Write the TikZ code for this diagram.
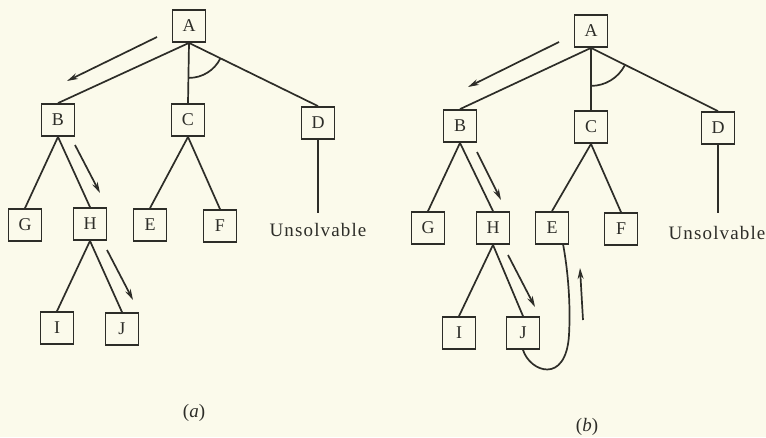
\documentclass[tikz,border=0pt]{standalone}
\usepackage{fontspec}
\setmainfont{Liberation Serif}
\usetikzlibrary{arrows.meta}
\definecolor{paper}{RGB}{251,250,235}
\definecolor{ink}{RGB}{45,45,40}
\begin{document}
\begin{tikzpicture}[x=1pt,y=1pt,
  box/.style={draw=ink, line width=1.8pt, minimum width=33pt, minimum height=32pt, inner sep=0pt, text=ink, font=\fontsize{18}{18}\selectfont},
  lbl/.style={text=ink, inner sep=0pt, font=\fontsize{19}{19}\selectfont},
  edge/.style={draw=ink, line width=1.7pt},
  arr/.style={draw=ink, line width=1.7pt, -{Stealth[length=11pt,width=6pt]}}]
\fill[paper] (0,0) rectangle (766,-437);
\useasboundingbox (0,0) rectangle (766,-437);
% ---------- (a) ----------
\node[box] (aA) at (189,-26) {A};
\node[box] (aB) at (58,-120) {B};
\node[box] (aC) at (188,-120) {C};
\node[box] (aD) at (318,-123) {D};
\node[box] (aG) at (25,-225) {G};
\node[box] (aH) at (90,-224) {H};
\node[box] (aE) at (150,-225) {E};
\node[box] (aF) at (220,-226) {F};
\node[box] (aI) at (57,-328) {I};
\node[box] (aJ) at (122,-329) {J};
\node[lbl] (aU) at (318,-230) {\addfontfeature{LetterSpace=6}Unsolvable};
\node[lbl] (acap) at (194,-413) {(\textit{a})};
\coordinate (aDend) at (318,-213);
\draw[edge] (aA.south) -- (aB.north);
\draw[edge] (aA.south) -- (aC.north);
\draw[edge] (aA.south) -- (aD.north);
\draw[edge] (aB.south) -- (aG.north);
\draw[edge] (aB.south) -- (aH.north);
\draw[edge] (aC.south) -- (aE.north);
\draw[edge] (aC.south) -- (aF.north);
\draw[edge] (aH.south) -- (aI.north);
\draw[edge] (aH.south) -- (aJ.north);
\draw[edge] (aD.south) -- (aDend);
\draw[edge] (aA.south) ++(0,-35) arc[start angle=270, end angle=333.6, radius=35];
\coordinate (aa1) at (157,-37); \coordinate (aa2) at (67,-81);
\coordinate (ab1) at (75,-145); \coordinate (ab2) at (100,-193);
\coordinate (ac1) at (107,-250); \coordinate (ac2) at (133,-300);
\draw[arr] (aa1) -- (aa2);
\draw[arr] (ab1) -- (ab2);
\draw[arr] (ac1) -- (ac2);
% ---------- (b) ----------
\node[box] (bA) at (591,-31) {A};
\node[box] (bB) at (460,-126) {B};
\node[box] (bC) at (591,-127) {C};
\node[box] (bD) at (718,-128) {D};
\node[box] (bG) at (428,-228) {G};
\node[box] (bH) at (493,-228) {H};
\node[box] (bE) at (552,-228) {E};
\node[box] (bF) at (621,-229) {F};
\node[box] (bI) at (459,-333) {I};
\node[box] (bJ) at (523,-333) {J};
\node[lbl] (bU) at (717,-233) {\addfontfeature{LetterSpace=6}Unsolvable};
\node[lbl] (bcap) at (587,-427) {(\textit{b})};
\coordinate (bDend) at (718,-213);
\draw[edge] (bA.south) -- (bB.north);
\draw[edge] (bA.south) -- (bC.north);
\draw[edge] (bA.south) -- (bD.north);
\draw[edge] (bB.south) -- (bG.north);
\draw[edge] (bB.south) -- (bH.north);
\draw[edge] (bC.south) -- (bE.north);
\draw[edge] (bC.south) -- (bF.north);
\draw[edge] (bH.south) -- (bI.north);
\draw[edge] (bH.south) -- (bJ.north);
\draw[edge] (bD.south) -- (bDend);
\draw[edge] (bA.south) ++(0,-38) arc[start angle=270, end angle=332.5, radius=38];
\coordinate (bEb) at (563,-244);
\coordinate (bmid) at (569,-335);
\draw[edge] (bJ.south) .. controls (530,-372) and (566,-385) .. (bmid)
  .. controls (571,-300) and (567,-265) .. (bEb);
\coordinate (ba1) at (559,-42); \coordinate (ba2) at (468,-87);
\coordinate (bb1) at (477,-152); \coordinate (bb2) at (501,-200);
\coordinate (bc1) at (508,-255); \coordinate (bc2) at (535,-307);
\coordinate (bd1) at (583,-320); \coordinate (bd2) at (580,-268);
\draw[arr] (ba1) -- (ba2);
\draw[arr] (bb1) -- (bb2);
\draw[arr] (bc1) -- (bc2);
\draw[arr] (bd1) -- (bd2);
\end{tikzpicture}
\end{document}
